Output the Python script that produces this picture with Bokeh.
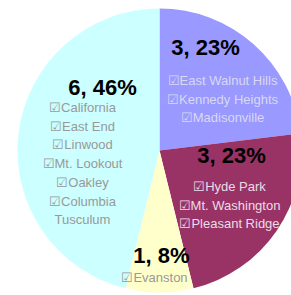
import numpy as np
from bokeh.plotting import figure
from bokeh.models import ColumnDataSource, Range1d
from bokeh.core.properties import value
from bokeh.embed import file_html
from bokeh.resources import INLINE

# ---- data ----
slice_counts = [3, 3, 1, 6]
slice_colors = ["#9999FF", "#993366", "#FFFFCC", "#CCFFFF"]
slice_items = [
    ["☑East Walnut Hills", "☑Kennedy Heights", "☑Madisonville"],
    ["☑Hyde Park", "☑Mt. Washington", "☑Pleasant Ridge"],
    ["☑Evanston"],
    ["☑California", "☑East End", "☑Linwood", "☑Mt. Lookout", "☑Oakley", "☑Columbia", "Tusculum"],
]
item_colors = ["#D8D8F2", "#EBDCE6", "#999999", "#999999"]

# ---- layout (pixel-space) ----
W, H = 291, 295
cx, cy, R = 159, 145, 142
bold_pos = [(205, 248), (231, 140), (161, 40), (102, 208)]
items_pos = [(222, 215), (229, 109), (154, 18), (82, 188)]
line_step = [18.5, 18.5, 18.5, 18.7]

total = sum(slice_counts)
fr = np.array(slice_counts) / total
cum = np.concatenate([[0], np.cumsum(fr)])
start = np.pi / 2 - cum[:-1] * 2 * np.pi
end = np.pi / 2 - cum[1:] * 2 * np.pi

p = figure(width=W, height=H, output_backend="svg", toolbar_location=None,
           x_range=Range1d(0, W), y_range=Range1d(0, H), min_border=0)
p.axis.visible = False
p.grid.visible = False
p.outline_line_color = None
p.background_fill_color = "white"

src = ColumnDataSource(dict(s=start, e=end, c=slice_colors))
p.wedge(x=cx, y=cy, radius=R, start_angle="s", end_angle="e", direction="clock",
        fill_color="c", line_color=None, source=src)

bl = dict(x=[], y=[], t=[])
for i, n in enumerate(slice_counts):
    bl["x"].append(bold_pos[i][0])
    bl["y"].append(bold_pos[i][1])
    bl["t"].append(f"{n}, {round(100 * n / total)}%")
p.text(x="x", y="y", text="t", source=ColumnDataSource(bl), text_font=value("Liberation Sans"),
       text_font_style="bold", text_font_size="22px", text_align="center",
       text_baseline="middle", text_color="black")

it = dict(x=[], y=[], t=[], c=[])
for i, items in enumerate(slice_items):
    for j, s in enumerate(items):
        it["x"].append(items_pos[i][0])
        it["y"].append(items_pos[i][1] - j * line_step[i])
        it["t"].append(s)
        it["c"].append(item_colors[i])
p.text(x="x", y="y", text="t", text_color="c", source=ColumnDataSource(it),
       text_font=value("Liberation Sans"), text_font_size="13px", text_align="center",
       text_baseline="middle")

open("out.html", "w").write(file_html(p, INLINE))
